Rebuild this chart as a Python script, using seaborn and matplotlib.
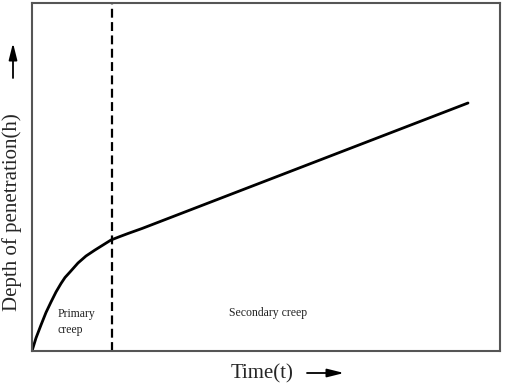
import numpy as np
import pandas as pd
import matplotlib
matplotlib.use("Agg")
import matplotlib.pyplot as plt
import seaborn as sns

# schematic creep curve (arbitrary units)
time_pts = [0, 4, 9, 14, 19, 24, 29, 33, 38, 46, 54, 63, 71, 79, 88, 96, 110, 123, 436]
depth_pts = [0, 13, 26, 38.5, 49, 59, 67.5, 73.5, 79, 88, 95, 101, 106, 111, 114.5, 117.5, 122.5, 127.5, 248]
t_break = 79.5
t_max, h_max = 468, 348

stage_labels = ["Primary\ncreep", "Secondary creep"]
stage_x = [26, 236]
stage_y = [29, 38]

sns.set_style("white")
plt.rcParams['font.family'] = ['Liberation Serif', 'DejaVu Serif']

fig = plt.figure(figsize=(5.05, 3.88), dpi=100)
ax = fig.add_axes([32 / 505, 37 / 388, 468 / 505, 348 / 388])

df = pd.DataFrame({"t": time_pts, "h": depth_pts})
sns.lineplot(data=df, x="t", y="h", color="black", linewidth=2, ax=ax, sort=False,
             solid_joinstyle="round", solid_capstyle="round")
ax.axvline(t_break, color="black", linestyle=(0, (4, 2)), linewidth=1.6)

ax.text(stage_x[0], stage_y[0], stage_labels[0], fontsize=8.5, ha="left",
        va="center", color="#222", linespacing=1.5)
ax.text(stage_x[1], stage_y[1], stage_labels[1], fontsize=8.5, ha="center",
        va="center", color="#222")

ax.set_xlim(0, t_max)
ax.set_ylim(0, h_max)
ax.set_xticks([])
ax.set_yticks([])
ax.set_xlabel("")
ax.set_ylabel("")
for sp in ax.spines.values():
    sp.set_visible(True)
    sp.set_color("#555555")
    sp.set_linewidth(1.5)

# axis titles with arrows (figure pixel coords)
fig.text(12 / 505, 1 - 212 / 388, "Depth of penetration(h)", rotation=90,
         fontsize=15, ha="center", va="center")
fig.text(262 / 505, 1 - 374 / 388, "Time(t)", fontsize=15,
         ha="center", va="center")
arrow = dict(arrowstyle="-|>,head_length=1.0,head_width=0.25", color="black", lw=1.3,
             shrinkA=0, shrinkB=0)
ax.annotate("", xy=(13 / 505, 1 - 43 / 388), xytext=(13 / 505, 1 - 78 / 388),
            xycoords="figure fraction", textcoords="figure fraction", arrowprops=arrow)
ax.annotate("", xy=(344 / 505, 1 - 373 / 388), xytext=(307 / 505, 1 - 373 / 388),
            xycoords="figure fraction", textcoords="figure fraction", arrowprops=arrow)

fig.savefig("out.png", dpi=100)
